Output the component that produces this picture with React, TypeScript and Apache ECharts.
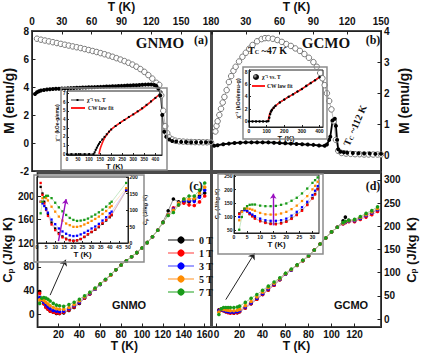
import React, { useEffect, useRef } from "react";
import * as echarts from "echarts";

// ---------- Panel (a) GNMO M(T) ----------
const aT_FC = [5,9,13,17,21,25,29,33,37,41,45,49,53,57,61,65,69,73,77,81,85,89,93,97,101,105,109,113,117,121,125,128,130,132,134,136,138,141,144,148,152,156,160,164,168,172,176,180];
const aM_FC = [7.45,7.38,7.32,7.26,7.2,7.14,7.08,7.02,6.96,6.9,6.84,6.78,6.71,6.64,6.57,6.5,6.42,6.34,6.25,6.16,6.06,5.96,5.85,5.73,5.6,5.45,5.28,5.08,4.85,4.6,4.3,4.15,3.4,2.3,1.2,0.7,0.4,0.25,0.17,0.12,0.1,0.08,0.07,0.06,0.06,0.05,0.05,0.05];
const aT_ZFC = [3,5,7,9,12,15,18,21,24,27,30,33,36,39,42,45,48,51,54,57,60,63,66,69,72,75,78,81,84,87,90,93,96,99,102,105,108,111,114,117,120,123,125,127,129,131,133,135,138,141,145,150,155,160,165,170,175,180];
const aM_ZFC = [3.5,3.62,3.7,3.75,3.79,3.82,3.84,3.86,3.87,3.88,3.89,3.9,3.91,3.92,3.93,3.94,3.95,3.96,3.97,3.98,3.98,3.99,4.0,4.01,4.02,4.03,4.04,4.05,4.06,4.07,4.08,4.09,4.1,4.11,4.12,4.13,4.15,4.16,4.17,4.18,4.18,4.15,4.08,3.9,3.4,2.0,0.8,0.45,0.25,0.15,0.1,0.08,0.07,0.06,0.05,0.05,0.05,0.05];

// ---------- Panel (b) GCMO M(T) ----------
const bT_FC = [3,4,5,6.5,8,9.5,11,13,15,17,19,21,24,27,30,33,36,40,44,47,50,54,58,62,66,70,74,78,82,86,90,93,96,98,100,102,104,106,108,110,112,115,119,123,127,131,135,139,143,147,150];
const bM_FC = [0.77,0.95,1.1,1.3,1.5,1.7,1.88,2.1,2.36,2.55,2.72,2.85,3.02,3.17,3.3,3.43,3.55,3.67,3.74,3.77,3.77,3.75,3.71,3.65,3.58,3.52,3.44,3.36,3.26,3.14,3.0,2.85,2.65,2.48,2.26,2.0,1.75,1.48,1.1,0.5,0.15,0.08,0.06,0.05,0.04,0.04,0.03,0.03,0.03,0.03,0.03];
const bT_ZFC = [2,5,10,15,20,25,30,35,40,45,50,55,60,65,70,75,80,85,90,95,100,102,104,105,107,109,110,111,112,114,117,120,125,130,135,140,145,150];
const bM_ZFC = [0.31,0.33,0.36,0.38,0.4,0.41,0.42,0.42,0.42,0.42,0.42,0.41,0.4,0.39,0.38,0.37,0.36,0.35,0.34,0.32,0.31,0.35,0.5,0.6,1.12,1.18,0.95,0.5,0.2,0.12,0.1,0.09,0.08,0.07,0.06,0.06,0.05,0.05];

// ---------- Inset (a) chi^-1 vs T ----------
const iaT_data = [0,20,40,60,80,100,120,125,130,135,140,145,150,160,170,180,190,200,220,240,260,280,300,320,340,360,380,400,420];
const iaV_data = [0,0,0,0,0,0,0,0.2,0.5,0.75,1.0,1.2,1.4,1.7,2.0,2.3,2.6,2.85,3.25,3.6,3.95,4.3,4.6,4.95,5.3,5.7,6.1,6.5,6.9];
const iaT_fit = [145,150,160,170,180,200,225,250,275,300,325,350,375,400,420];
const iaV_fit = [0,0.6,1.3,1.85,2.25,2.85,3.35,3.8,4.2,4.6,5.0,5.45,5.95,6.5,6.95];

// ---------- Inset (b) chi^-1 vs T ----------
const ibT_data = [0,20,40,60,80,100,110,115,120,125,130,140,150,175,200,225,250,275,300,325,350,375,400];
const ibV_data = [0,0,0,0,0,0,0.05,0.6,1.2,1.6,1.85,2.2,2.5,3.05,3.5,3.95,4.35,4.8,5.2,5.7,6.15,6.6,7.1];
const ibT_fit = [108,112,118,125,135,150,175,200,250,300,350,400];
const ibV_fit = [0,0.6,1.25,1.65,2.0,2.45,3.05,3.5,4.35,5.2,6.15,7.1];

// ---------- Panel (c) GNMO Cp ----------
const FIELDS = ["0 T", "1 T", "3 T", "5 T", "7 T"];
const cT = [2,4,6,8,10,12,15,18,21,25,30,35,40,45,50,55,60,65,70,75,80,85,90,95,100,105,110,115,120,125,130,135,140,145,150,155,160];
const c0 = [38,25,18,12,8,5,3,1,1,2,6,11,18,27,34,42,50,58,66,75,83,90,97,104,112,121,131,142,156,175,195,190,190,190,194,200,205];
const c1 = [35,24,17,11,8,5,3,2,1,3,7,12,19,27,34,42,50,58,66,75,83,90,97,104,112,121,131,142,155,168,180,185,188,185,184,190,200];
const c3 = [28,24,20,16,12,9,6,5,4,5,9,14,20,28,35,42,50,58,66,75,83,90,97,104,112,121,131,142,155,168,178,188,192,192,191,198,210];
const c5 = [24,25,23,20,17,14,11,9,8,8,11,16,22,29,36,43,51,58,66,75,83,90,97,104,112,121,131,142,155,168,176,188,195,195,196,205,215];
const c7 = [18,27,28,27,25,22,18,15,14,13,16,20,25,31,37,44,51,59,67,75,83,90,97,104,112,121,131,142,155,167,172,185,195,200,200,210,222];

// ---------- Inset (c) ----------
const icT = [2,3,4,5,6,8,10,12,14,16,18,20,22,24,26,28,30,32,34,36,38,40,41,49];
const ic0 = [170,150,125,105,88,62,44,30,20,13,9,7,8,12,18,26,33,40,48,58,68,78,84,158];
const ic1 = [182,146,120,100,82,56,39,27,17,11,8,6,8,12,19,27,34,41,50,60,70,80,86,160];
const ic3 = [125,120,112,102,92,71,57,44,35,28,23,21,22,26,31,37,44,50,58,68,78,90,95,161];
const ic5 = [125,136,139,136,129,110,95,80,68,59,54,49,49,51,56,61,67,73,80,88,97,108,112,166];
const ic7 = [90,125,139,143,143,136,122,108,96,85,76,70,67,68,70,74,80,86,93,101,110,120,125,182];

// ---------- Panel (d) GCMO Cp ----------
const dT = [2,4,6,8,10,12,15,18,20,25,30,35,40,45,50,55,60,65,70,75,80,85,90,95,100,105,110,112,115,120,125,130,135,140];
const d0 = [20,20,18,16,15,14,13,14,16,24,33,43,53,63,73,85,97,106,116,126,136,149,162,175,188,198,212,220,213,212,218,225,230,235];
const d1 = [19,20,18,16,14,13,13,14,16,24,33,43,53,63,73,85,97,106,116,126,136,149,162,175,188,198,205,208,210,210,215,220,225,232];
const d3 = [18,21,19,17,16,15,15,16,18,26,35,45,55,65,75,86,97,106,116,126,136,149,162,175,188,198,206,209,211,212,217,223,229,236];
const d5 = [15,22,21,20,19,18,18,19,21,29,38,48,58,68,77,87,98,107,116,126,136,149,162,175,188,198,207,210,212,214,219,225,231,238];
const d7 = [10,22,25,25,25,25,25,26,28,36,45,53,62,71,80,89,99,108,117,127,137,149,162,175,188,198,208,211,213,215,221,228,234,242];

// ---------- Inset (d) ----------
const idT = [2,3,4,5,6,7,8,10,12,14,16,18,20,22,24,26,28,30,31,32,33];
const id0 = [112,120,128,121,111,103,95,85,79,75,74,77,83,94,108,124,145,169,184,203,226];
const id1 = [110,118,127,119,109,101,93,83,77,73,72,75,81,92,106,122,143,167,182,201,223];
const id3 = [99,118,124,122,114,108,102,93,87,85,85,87,93,104,118,135,155,180,196,213,235];
const id5 = [87,118,130,131,129,126,122,114,109,108,108,112,118,128,141,158,176,201,214,229,241];
const id7 = [52,99,130,139,144,145,145,141,139,139,140,144,149,159,170,186,204,225,235,245,252];

// ---------- Annotation arrows (data coordinates) ----------
const icArrow = [[11.8, 6], [16, 133]];
const idArrow = [[15, 68], [15, 185]];
const cArrow = [[12, 32], [27, 92]];
const dArrow = [[8, 42], [33, 142]];

// ---------- Tick labels ----------
const aXTicks = [0, 30, 60, 90, 120, 150, 180];
const aYTicks = [-2, 0, 2, 4, 6, 8];
const bXTicks = [0, 30, 60, 90, 120, 150];
const bXLabels = [30, 60, 90, 120, 150];
const bYTicks = [0, 1, 2, 3, 4];
const cXTicks = [0, 20, 40, 60, 80, 100, 120, 140, 160];
const cXLabels = [20, 40, 60, 80, 100, 120, 140, 160];
const cYTicks = [0, 40, 80, 120, 160, 200];
const dXTicks = [0, 20, 40, 60, 80, 100, 120];
const dYTicks = [0, 50, 100, 150, 200, 250, 300];
const iaXTicks = [0, 50, 100, 150, 200, 250, 300, 350, 400];
const iaYTicks = [0, 1, 2, 3, 4, 5, 6, 7];
const ibXTicks = [0, 100, 200, 300, 400];
const ibYTicks = [0, 2, 4, 6, 8];
const icXTicks = [0, 5, 10, 15, 20, 25, 30, 35, 40, 45, 50];
const icYTicks = [0, 50, 100, 150, 200];
const idXTicks = [0, 5, 10, 15, 20, 25, 30];
const idYTicks = [50, 100, 150, 200, 250];

const FIELD_COLORS = ["#000000", "#ff0000", "#0000ff", "#ff8c00", "#199a19"];
const FIELD_LINES = ["#8a8a8a", "#ff9c9c", "#a0a0ff", "#ffc890", "#8ed08e"];

const SANS = "'Liberation Sans', Arial, sans-serif";
const SERIF = "'Liberation Serif', 'Times New Roman', serif";

const zip = (xs: number[], ys: number[]) => xs.map((x, i) => [x, ys[i]]);

function valueAxis(
  gridIndex: number,
  position: string,
  min: number,
  max: number,
  ticks: number[],
  labels: number[],
  fontSize: number,
  margin: number,
  extra: any = {}
) {
  return {
    type: "value",
    gridIndex,
    position,
    min,
    max,
    splitLine: { show: false },
    axisLine: { show: true, onZero: false, lineStyle: { color: "#222", width: 1 } },
    axisTick: { show: true, inside: true, length: fontSize > 7 ? 3.5 : 2, customValues: ticks, lineStyle: { color: "#222", width: 1 } },
    axisLabel: {
      customValues: labels,
      fontFamily: SANS,
      fontWeight: "bold",
      fontSize,
      color: "#111",
      margin,
    },
    ...extra,
  };
}

const titleStyle = (size: number) => ({ fontFamily: SANS, fontWeight: "bold", fontSize: size, color: "#111" });

const cpRich = (big: number, small: number) => ({
  rich: {
    a: { fontFamily: SANS, fontWeight: "bold", fontSize: big, lineHeight: big + 3, verticalAlign: "bottom", color: "#111" },
    s: { fontFamily: SANS, fontWeight: "bold", fontSize: small, lineHeight: small, verticalAlign: "bottom", color: "#111" },
  },
});

function buildOption() {
  const grids = [
    { left: 32, top: 28, width: 179, height: 143 },
    { left: 212, top: 28, width: 169, height: 143 },
    { left: 32, top: 173, width: 179, height: 154 },
    { left: 212, top: 173, width: 169, height: 154 },
    { left: 67, top: 91, width: 95, height: 64 },
    { left: 249, top: 70, width: 74, height: 57 },
    { left: 37, top: 177, width: 91, height: 66 },
    { left: 234, top: 175, width: 85, height: 58 },
  ].map((g, i) => ({
    ...g,
    show: true,
    containLabel: false,
    borderColor: i < 4 ? "#4a4a4a" : "#222",
    borderWidth: i < 4 ? 2 : 1,
    backgroundColor: i < 4 ? "transparent" : "#fff",
  }));

  const xAxis = [
    valueAxis(0, "top", 0, 180, aXTicks, aXTicks, 10, 5, { name: "T (K)", nameLocation: "middle", nameGap: 18, nameTextStyle: titleStyle(12) }),
    valueAxis(1, "top", 0, 150, bXTicks, bXLabels, 10, 5, { name: "T (K)", nameLocation: "middle", nameGap: 18, nameTextStyle: titleStyle(12) }),
    valueAxis(2, "bottom", 0, 166, cXTicks, cXLabels, 10, 2, { name: "T (K)", nameLocation: "middle", nameGap: 13, nameTextStyle: titleStyle(12) }),
    valueAxis(3, "bottom", -4, 143, dXTicks, dXTicks, 10, 2, { name: "T (K)", nameLocation: "middle", nameGap: 13, nameTextStyle: titleStyle(12) }),
    valueAxis(4, "bottom", 0, 430, iaXTicks, iaXTicks, 4.5, 1.5, { name: "T (K)", nameLocation: "middle", nameGap: 6, nameTextStyle: titleStyle(7.5) }),
    valueAxis(5, "bottom", 0, 420, ibXTicks, ibXTicks, 5, 1.5, { name: "T (K)", nameLocation: "middle", nameGap: 6, nameTextStyle: titleStyle(7.5) }),
    valueAxis(6, "bottom", 0, 50, icXTicks, icXTicks, 5, 1.5, { name: "T (K)", nameLocation: "middle", nameGap: 7, nameTextStyle: titleStyle(8) }),
    valueAxis(7, "bottom", 0, 32.5, idXTicks, idXTicks, 5, 1.5, { name: "T (K)", nameLocation: "middle", nameGap: 6, nameTextStyle: titleStyle(8) }),
  ];

  const yAxis = [
    valueAxis(0, "left", -2, 8, aYTicks, aYTicks, 10, 3, { name: "M (emu/g)", nameLocation: "middle", nameRotate: 90, nameGap: 14, nameTextStyle: titleStyle(14) }),
    valueAxis(1, "right", -0.5, 4, bYTicks, bYTicks, 10, 3, { name: "M (emu/g)", nameLocation: "middle", nameRotate: 90, nameGap: 16, nameTextStyle: titleStyle(14) }),
    valueAxis(2, "left", -22, 239, cYTicks, cYTicks, 10, 3, { name: "{a|C}{s|p}{a| (J/kg K)}", nameLocation: "middle", nameRotate: 90, nameGap: 18, nameTextStyle: cpRich(13, 8) }),
    valueAxis(3, "right", -17, 315, dYTicks, dYTicks, 10, 3, { name: "{a|C}{s|p}{a| (J/kg K)}", nameLocation: "middle", nameRotate: 90, nameGap: 18, nameTextStyle: cpRich(13, 8) }),
    valueAxis(4, "left", -0.1, 7.3, iaYTicks, iaYTicks, 4.5, 1.5, { name: "χ⁻¹ (kOe-g/emu)", nameLocation: "middle", nameRotate: 90, nameGap: 7, nameTextStyle: titleStyle(5) }),
    valueAxis(5, "left", -0.9, 8.25, ibYTicks, ibYTicks, 5, 1.5, { name: "χ⁻¹ (kOe/emu-g)", nameLocation: "middle", nameRotate: 90, nameGap: 8, nameTextStyle: titleStyle(5.5) }),
    valueAxis(6, "right", 0, 200, icYTicks, icYTicks, 5, 1.5, { name: "{a|C}{s|p}{a| (J/kg K)}", nameLocation: "middle", nameRotate: 90, nameGap: 11, nameTextStyle: cpRich(6, 4) }),
    valueAxis(7, "left", 40, 254, idYTicks, idYTicks, 5, 1.5, { name: "{a|C}{s|p}{a| (J/kg K)}", nameLocation: "middle", nameRotate: 90, nameGap: 11, nameTextStyle: cpRich(6, 4) }),
  ];

  const series: any[] = [];

  // (a)
  series.push({
    name: "a-FC", type: "line", xAxisIndex: 0, yAxisIndex: 0, data: zip(aT_FC, aM_FC),
    symbol: "circle", symbolSize: 5.5, lineStyle: { color: "#9a9a9a", width: 0.7 },
    itemStyle: { color: "#ffffff", borderColor: "#6a6a6a", borderWidth: 0.9 },
  });
  series.push({
    name: "a-ZFC", type: "line", xAxisIndex: 0, yAxisIndex: 0, data: zip(aT_ZFC, aM_ZFC),
    symbol: "circle", symbolSize: 4, lineStyle: { color: "#222", width: 0.8 }, itemStyle: { color: "#000" },
  });
  // (b)
  series.push({
    name: "b-FC", type: "line", xAxisIndex: 1, yAxisIndex: 1, data: zip(bT_FC, bM_FC),
    symbol: "circle", symbolSize: 5.5, lineStyle: { color: "#9a9a9a", width: 0.7 },
    itemStyle: { color: "#ffffff", borderColor: "#6a6a6a", borderWidth: 0.9 },
  });
  series.push({
    name: "b-ZFC", type: "line", xAxisIndex: 1, yAxisIndex: 1, data: zip(bT_ZFC, bM_ZFC),
    symbol: "circle", symbolSize: 4, lineStyle: { color: "#000", width: 1.8 }, itemStyle: { color: "#000" },
  });
  // inset a
  series.push({
    name: "ia-data", type: "line", xAxisIndex: 4, yAxisIndex: 4, data: zip(iaT_data, iaV_data),
    symbol: "rect", symbolSize: 2, lineStyle: { color: "#000", width: 0.9 }, itemStyle: { color: "#000" },
  });
  series.push({
    name: "ia-fit", type: "line", xAxisIndex: 4, yAxisIndex: 4, data: zip(iaT_fit, iaV_fit),
    symbol: "none", smooth: 0.3, lineStyle: { color: "#ff2020", width: 1.6 }, z: 3,
  });
  // inset b
  series.push({
    name: "ib-data", type: "line", xAxisIndex: 5, yAxisIndex: 5, data: zip(ibT_data, ibV_data),
    symbol: "circle", symbolSize: 2.5, lineStyle: { color: "#000", width: 1.2 }, itemStyle: { color: "#000" },
  });
  series.push({
    name: "ib-fit", type: "line", xAxisIndex: 5, yAxisIndex: 5, data: zip(ibT_fit, ibV_fit),
    symbol: "none", smooth: 0.3, lineStyle: { color: "#ff2020", width: 1.5 }, z: 3,
  });

  const cSets = [c0, c1, c3, c5, c7];
  const dSets = [d0, d1, d3, d5, d7];
  const icSets = [ic0, ic1, ic3, ic5, ic7];
  const idSets = [id0, id1, id3, id5, id7];

  FIELDS.forEach((f, i) => {
    series.push({
      name: f, type: "line", xAxisIndex: 2, yAxisIndex: 2, data: zip(cT, cSets[i]),
      symbol: "circle", symbolSize: 3.6, lineStyle: { color: FIELD_LINES[i], width: 0.9 },
      itemStyle: { color: FIELD_COLORS[i] },
      markLine: i === 4 ? {
        silent: true, symbol: ["none", "arrow"], symbolSize: 6, label: { show: false },
        lineStyle: { color: "#222", width: 1, type: "solid", curveness: 0.15 },
        data: [[{ coord: cArrow[0] }, { coord: cArrow[1] }]],
      } : undefined,
    });
  });
  FIELDS.forEach((f, i) => {
    series.push({
      name: f, type: "line", xAxisIndex: 3, yAxisIndex: 3, data: zip(dT, dSets[i]),
      symbol: "circle", symbolSize: 3.6, lineStyle: { color: FIELD_LINES[i], width: 0.9 },
      itemStyle: { color: FIELD_COLORS[i] },
      markLine: i === 4 ? {
        silent: true, symbol: ["none", "arrow"], symbolSize: 6, label: { show: false },
        lineStyle: { color: "#222", width: 1, type: "solid", curveness: 0.4 },
        data: [[{ coord: dArrow[0] }, { coord: dArrow[1] }]],
      } : undefined,
    });
  });
  FIELDS.forEach((f, i) => {
    series.push({
      name: "ic " + f, type: "line", xAxisIndex: 6, yAxisIndex: 6, data: zip(icT, icSets[i]),
      symbol: "rect", symbolSize: 2.3, lineStyle: { color: FIELD_LINES[i], width: 0.5 },
      itemStyle: { color: FIELD_COLORS[i] },
      markLine: i === 4 ? {
        silent: true, symbol: ["none", "arrow"], symbolSize: 5, label: { show: false },
        lineStyle: { color: "#9a10c0", width: 1.4, type: "solid" },
        data: [[{ coord: icArrow[0] }, { coord: icArrow[1] }]],
      } : undefined,
    });
  });
  FIELDS.forEach((f, i) => {
    series.push({
      name: "id " + f, type: "line", xAxisIndex: 7, yAxisIndex: 7, data: zip(idT, idSets[i]),
      symbol: "rect", symbolSize: 2.3, lineStyle: { color: FIELD_LINES[i], width: 0.5 },
      itemStyle: { color: FIELD_COLORS[i] },
      markLine: i === 4 ? {
        silent: true, symbol: ["none", "arrow"], symbolSize: 5, label: { show: false },
        lineStyle: { color: "#9a10c0", width: 1.4, type: "solid" },
        data: [[{ coord: idArrow[0] }, { coord: idArrow[1] }]],
      } : undefined,
    });
  });

  const txt = (x: number, y: number, text: string, font: string, align = "center", extra: any = {}) => ({
    type: "text", x, y, z: 50,
    style: { text, font, fill: "#111", align, verticalAlign: "middle", ...extra },
  });

  const graphic: any[] = [
    // inset outer frames
    { type: "rect", shape: { x: 61, y: 88, width: 106, height: 82 }, style: { fill: "none", stroke: "#8c8c8c", lineWidth: 1.5 }, z: 40 },
    { type: "rect", shape: { x: 243, y: 67, width: 84, height: 72 }, style: { fill: "none", stroke: "#8c8c8c", lineWidth: 1.5 }, z: 40 },
    { type: "rect", shape: { x: 34, y: 175, width: 110, height: 87 }, style: { fill: "none", stroke: "#8c8c8c", lineWidth: 1.5 }, z: 40 },
    { type: "rect", shape: { x: 218, y: 174, width: 105, height: 80 }, style: { fill: "none", stroke: "#8c8c8c", lineWidth: 1.5 }, z: 40 },
    // panel labels
    txt(160, 43, "GNMO", `bold 15px ${SERIF}`),
    txt(201, 40, "(a)", `bold 12px ${SERIF}`),
    txt(326, 43, "GCMO", `bold 15px ${SERIF}`),
    txt(373, 40, "(b)", `bold 12px ${SERIF}`),
    txt(196, 186, "(c)", `bold 12px ${SERIF}`),
    txt(373, 186, "(d)", `bold 12px ${SERIF}`),
    txt(129, 305, "GNMO", `bold 11px ${SANS}`),
    txt(351, 305, "GCMO", `bold 11px ${SANS}`),
    // Tc annotations
    {
      type: "text", x: 248, y: 49, z: 50,
      style: {
        text: "{a|T}{s|C}{a| ~47 K}", verticalAlign: "middle", align: "left",
        rich: {
          a: { font: `bold 10px ${SERIF}`, fill: "#111", lineHeight: 12, verticalAlign: "bottom" },
          s: { font: `bold 6px ${SERIF}`, fill: "#111", lineHeight: 6, verticalAlign: "bottom" },
        },
      },
    },
    {
      type: "text", x: 354, y: 125, z: 50, rotation: 1.15,
      style: {
        text: "{a|T}{s|C}{a| ~112 K}", verticalAlign: "middle", align: "center",
        rich: {
          a: { font: `bold 10px ${SERIF}`, fill: "#111", lineHeight: 12, verticalAlign: "bottom" },
          s: { font: `bold 6px ${SERIF}`, fill: "#111", lineHeight: 6, verticalAlign: "bottom" },
        },
      },
    },
    // inset a legend
    { type: "line", shape: { x1: 71, y1: 100, x2: 84, y2: 100 }, style: { stroke: "#000", lineWidth: 0.8 }, z: 50 },
    { type: "rect", shape: { x: 76.5, y: 99, width: 2, height: 2 }, style: { fill: "#000" }, z: 50 },
    txt(87, 100, "χ⁻¹ vs. T", `bold 5.5px ${SERIF}`, "left"),
    { type: "line", shape: { x1: 71, y1: 108, x2: 85, y2: 108 }, style: { stroke: "#ff2020", lineWidth: 2 }, z: 50 },
    txt(88, 108, "CW law fit", `bold 5.5px ${SERIF}`, "left"),
    // inset b legend
    {
      type: "circle", shape: { cx: 256, cy: 77, r: 3 }, z: 50,
      style: { fill: new echarts.graphic.RadialGradient(0.35, 0.35, 0.7, [{ offset: 0, color: "#bbb" }, { offset: 0.5, color: "#111" }, { offset: 1, color: "#000" }]) },
    },
    txt(262, 77, "χ⁻¹ vs. T", `bold 5.5px ${SERIF}`, "left"),
    { type: "line", shape: { x1: 252, y1: 86, x2: 265, y2: 86 }, style: { stroke: "#ff2020", lineWidth: 2 }, z: 50 },
    txt(267, 86, "CW law fit", `bold 5.5px ${SERIF}`, "left"),
  ];

  return {
    animation: false,
    backgroundColor: "#ffffff",
    grid: grids,
    xAxis,
    yAxis,
    legend: {
      data: FIELDS,
      orient: "vertical",
      left: 162,
      top: 230,
      itemGap: 3,
      itemWidth: 26,
      itemHeight: 9,
      textStyle: { fontFamily: SERIF, fontWeight: "bold", fontSize: 10, color: "#111" },
      selectedMode: false,
    },
    series,
    graphic,
  };
}

export default function App() {
  const ref = useRef<HTMLDivElement>(null);
  useEffect(() => {
    if (!ref.current) return;
    const chart = echarts.init(ref.current, null, { renderer: "svg" });
    chart.setOption(buildOption() as any);
    return () => chart.dispose();
  }, []);
  return (
    <div
      ref={ref}
      style={{ position: "fixed", left: 0, top: 0, width: 422, height: 355, background: "#fff" }}
    />
  );
}
